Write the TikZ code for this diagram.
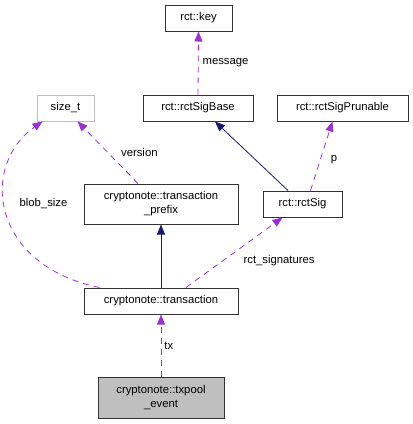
\documentclass[tikz,border=0pt]{standalone}
\usepackage{fontspec}
\setmainfont{Liberation Sans}
\usetikzlibrary{arrows.meta}

\definecolor{edgepurple}{HTML}{9A32CD}
\definecolor{edgenavy}{HTML}{191970}
\definecolor{boxgray}{HTML}{BFBFBF}

\tikzset{
  classbox/.style={draw=black!80, line width=1pt, fill=white, inner sep=2pt,
    minimum height=26pt, align=center, font=\fontsize{11.3}{14}\selectfont},
  extbox/.style={classbox, draw=boxgray, line width=0.8pt},
  usage/.style={draw=edgepurple, dashed, dash pattern=on 6pt off 5pt, line width=0.8pt,
    -{Triangle[length=10pt,width=8pt]}},
  inherit/.style={draw=edgenavy, line width=0.8pt,
    -{Triangle[length=10pt,width=8pt,fill=edgenavy]}},
  elabel/.style={font=\fontsize{11.3}{13}\selectfont, inner sep=1pt}
}

\begin{document}
\begin{tikzpicture}[x=1pt, y=-1pt]
        \useasboundingbox (0,0) rectangle (413,424);

        % Classes
        \node[classbox, minimum width=67pt] (key) at (198.5,18) {rct::key};
        \node[extbox, minimum width=57pt] (sizet) at (65.5,108) {size\_t};
        \node[classbox, minimum width=110pt] (sigbase) at (198,108) {rct::rctSigBase};
        \node[classbox, minimum width=131pt] (prunable) at (342.5,108) {rct::rctSigPrunable};
        \node[classbox, minimum width=154pt, minimum height=40pt] (prefix) at (161,204)
          {cryptonote::transaction\\\_prefix};
        \node[classbox, minimum width=79pt] (rctsig) at (302.5,204) {rct::rctSig};
        \node[classbox, minimum width=154pt] (trans) at (161,301) {cryptonote::transaction};
        \node[classbox, fill=boxgray, minimum width=126pt, minimum height=41pt] (event)
          at (161,397.5) {cryptonote::txpool\\\_event};

        % Inheritance
        \draw[inherit] ([xshift=-14.5pt]rctsig.north) -- ([xshift=17pt]sigbase.south);
        \draw[inherit] (trans.north) -- (prefix.south);

        % Members
        \draw[usage] (sigbase.north) -- node[elabel, right, xshift=3pt] {message} (key.south);
        \draw[usage] ([xshift=-23pt]prefix.north) -- node[elabel, right, xshift=12pt] {version}
          ([xshift=12pt]sizet.south);
        \draw[usage] ([xshift=16pt]trans.north west) .. controls (-10,265) and (-20,165) ..
          ([xshift=6pt]sizet.south west);
        \node[elabel] (blob) at (43.5,204) {blob\_size};
        \draw[usage] ([xshift=8pt]rctsig.north) -- node[elabel, right, xshift=8pt, yshift=-4pt] {p}
          ([xshift=-10pt]prunable.south);
        \draw[usage] ([xshift=25pt]trans.north) -- node[elabel, right, xshift=8pt, yshift=-8pt]
          {rct\_signatures} ([xshift=-20pt]rctsig.south);
        \draw[usage] (event.north) -- node[elabel, right, xshift=2pt] {tx} (trans.south);
      \end{tikzpicture}
\end{document}
